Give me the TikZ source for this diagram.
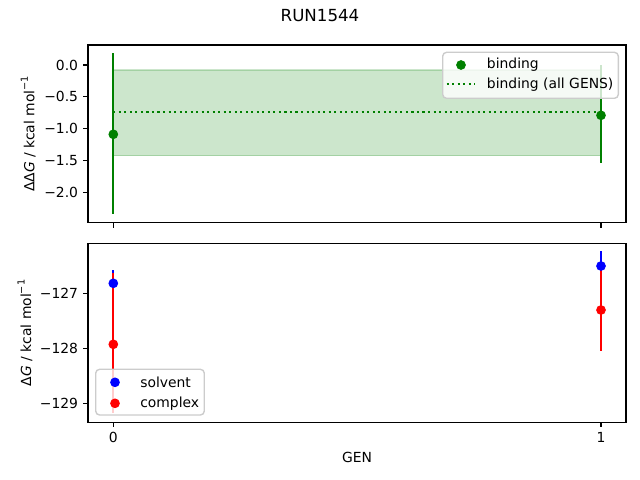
\documentclass[tikz,border=0pt]{standalone}
\usepackage{fontspec}
\setmainfont{DejaVu Sans}
\definecolor{mgreen}{RGB}{0,128,0}
\definecolor{mblue}{RGB}{0,0,255}
\definecolor{mred}{RGB}{255,0,0}
\definecolor{legedge}{RGB}{204,204,204}
\begin{document}
\begin{tikzpicture}[x=0.72pt,y=-0.72pt,font=\fontsize{10}{12}\selectfont,
  tick/.style={line width=0.8pt},
  frame/.style={line width=0.8pt,line join=miter},
  ebar/.style={line width=1.5pt},
  dot/.style={circle,inner sep=0pt,minimum size=7pt},
  ylab/.style={anchor=east,inner sep=0pt},
  xlab/.style={anchor=north,inner sep=0pt},
  legtext/.style={anchor=west,inner sep=0pt},
  leg/.style={draw=legedge,fill=white,fill opacity=0.8,rounded corners=2.8pt,line width=1pt}]
\useasboundingbox (0,0) rectangle (640,480);
% title
\node (title) at (320,16) {\fontsize{12}{14}\selectfont RUN1544};
% ---------------- top axes ----------------
\fill[mgreen,opacity=0.2] (113.3,70) rectangle (601,155.7);
\draw[mgreen,opacity=0.2,line width=1pt] (113.3,70) rectangle (601,155.7);
\draw[mgreen,line width=1.5pt,dash pattern=on 1.5pt off 2.475pt] (113.3,111.7) -- (601,111.7);
\draw[mgreen,ebar] (113.3,53.3) -- (113.3,214);
\draw[mgreen,ebar] (601,65) -- (601,163.3);
\node[dot,fill=mgreen] (b0) at (113.3,134.3) {};
\node[dot,fill=mgreen] (b1) at (601,115.3) {};
\draw[frame] (88,45) rectangle (626,222.7);
\foreach \y/\l [count=\i] in {65/0.0,96.9/−0.5,128.8/−1.0,160.7/−1.5,192.6/−2.0}{
  \draw[tick] (83.14,\y) -- (88,\y);
  \node[ylab] (ta\i) at (78.3,\y) {\l};
}
\draw[tick] (113.3,222.7) -- (113.3,227.56);
\draw[tick] (601,222.7) -- (601,227.56);
\node[rotate=90] (ylabA) at (28.3,134) {ΔΔ\textit{G} / kcal mol\raisebox{0.85ex}{\fontsize{7}{7}\selectfont −1}};
% legend top
\draw[leg] (442.7,52.3) rectangle (618.3,98.3);
\node[dot,fill=mgreen] (lb) at (461,65) {};
\draw[mgreen,line width=1.5pt,dash pattern=on 1.5pt off 2.475pt] (446.7,84.3) -- (475,84.3);
\node[legtext] (lbt) at (486.7,65) {binding};
\node[legtext] (lat) at (486.7,84.3) {binding (all GENS)};
% ---------------- bottom axes ----------------
\draw[mblue,ebar] (113.3,270) -- (113.3,296.6);
\draw[mblue,ebar] (601,251) -- (601,281);
\draw[mred,ebar] (113.3,273.3) -- (113.3,413.3);
\draw[mred,ebar] (601,269.3) -- (601,350.7);
\node[dot,fill=mblue] (s0) at (113.3,283.3) {};
\node[dot,fill=mblue] (s1) at (601,266) {};
\node[dot,fill=mred] (c0) at (113.3,344.3) {};
\node[dot,fill=mred] (c1) at (601,310) {};
\draw[frame] (88,243.3) rectangle (626,422.3);
\foreach \y/\l [count=\i] in {293.3/−127,348.6/−128,403.9/−129}{
  \draw[tick] (83.14,\y) -- (88,\y);
  \node[ylab] (tb\i) at (78.3,\y) {\l};
}
\draw[tick] (113.3,422.3) -- (113.3,427.16);
\draw[tick] (601,422.3) -- (601,427.16);
\node[xlab] (x0) at (113.3,432) {0};
\node[xlab] (x1) at (601,432) {1};
\node (xlabel) at (357,457) {GEN};
\node[rotate=90] (ylabB) at (25,333) {Δ\textit{G} / kcal mol\raisebox{0.85ex}{\fontsize{7}{7}\selectfont −1}};
% legend bottom
\draw[leg] (95.7,369.3) rectangle (204.3,415);
\node[dot,fill=mblue] (ls) at (115,382.3) {};
\node[dot,fill=mred] (lc) at (115,403.3) {};
\node[legtext] (lst) at (140,382.3) {solvent};
\node[legtext] (lct) at (140,403.3) {complex};
\end{tikzpicture}
\end{document}
